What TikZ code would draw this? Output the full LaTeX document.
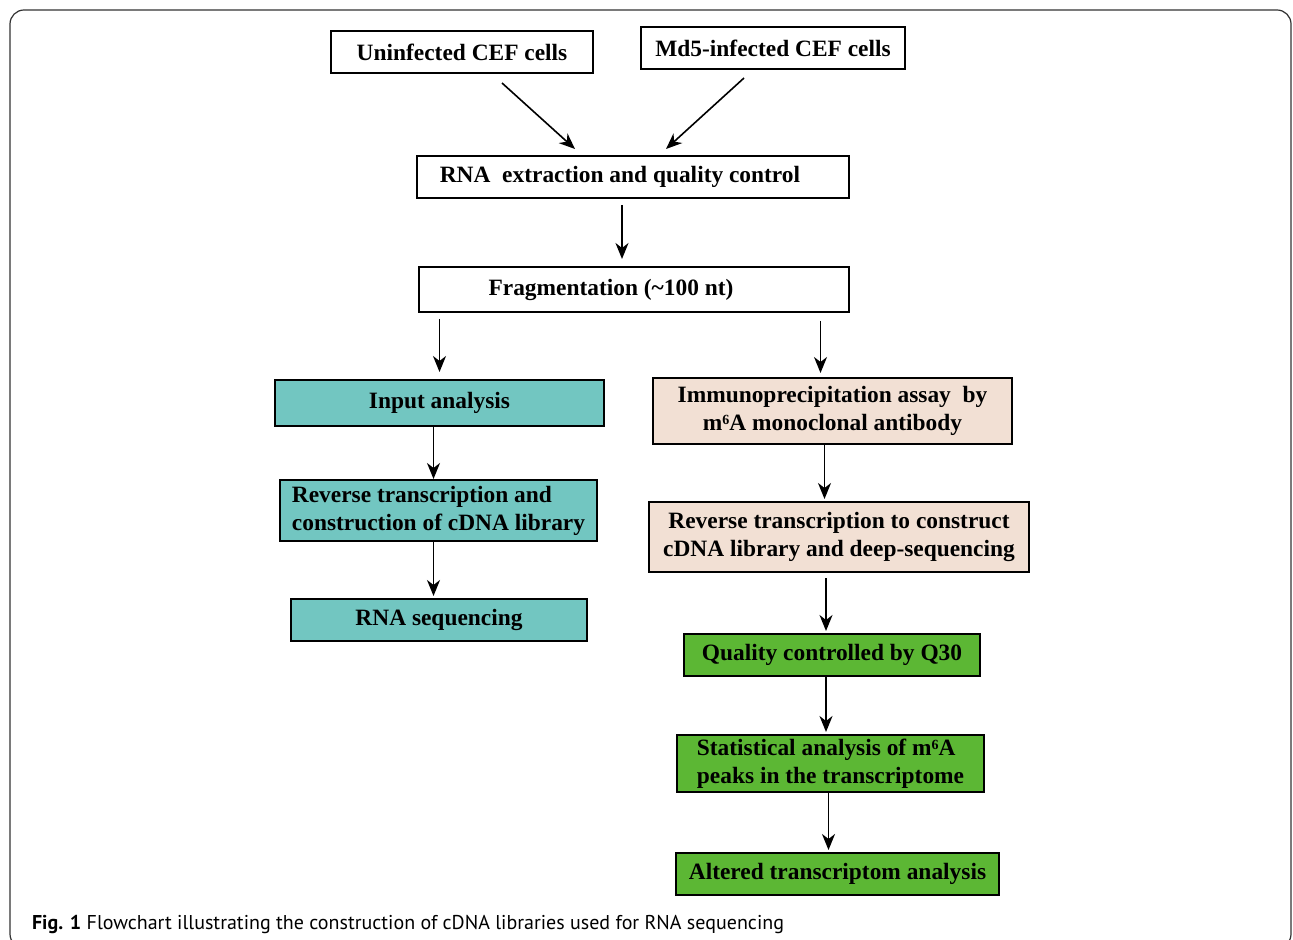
\documentclass[tikz,border=0pt]{standalone}
\usepackage{fontspec}
\setmainfont{Liberation Serif}
\newfontfamily\capfont{PT Sans}
\usepackage{xcolor}
\usepackage{tikz}
\usetikzlibrary{shapes,arrows.meta}

\definecolor{tealbox}{RGB}{114,198,193}
\definecolor{peachbox}{RGB}{242,224,212}
\definecolor{greenbox}{RGB}{92,183,52}
\definecolor{framegray}{RGB}{50,50,50}
\newcommand{\msix}{m\raisebox{0.55ex}{\fontsize{7}{7}\selectfont 6}A}

\begin{document}
\begin{tikzpicture}[x=0.5pt, y=-0.5pt, font=\fontsize{11.7}{14}\selectfont\bfseries]
% Define styles
\tikzstyle{plainbox} = [rectangle, draw=black, line width=1pt, fill=white, inner sep=0pt, minimum height=21pt, text centered]
\tikzstyle{inputbox} = [plainbox, fill=tealbox]
\tikzstyle{ipbox} = [plainbox, fill=peachbox]
\tikzstyle{seqbox} = [plainbox, fill=greenbox]
\tikzstyle{arrow} = [line width=0.8pt, -{Stealth[length=8pt, width=6.5pt, inset=2.5pt]}]

\useasboundingbox (0,0) rectangle (1293,940);
\draw [framegray, line width=0.6pt, rounded corners=7pt] (10,10) rectangle (1291,948);

% Define nodes
\node (unin) [plainbox, minimum width=131pt] at (462,52) {Uninfected CEF cells};
\node (md5) [plainbox, minimum width=132pt] at (773,48) {Md5-infected CEF cells};
\node (rna) [plainbox, minimum width=216pt] at (633,177) {RNA\ \ extraction and quality control\hspace*{13pt}};
\node (frag) [plainbox, minimum width=215pt, minimum height=22.5pt] at (634,289.5) {Fragmentation (\textasciitilde100 nt)\hspace*{23pt}};
\node (input) [inputbox, minimum width=164.5pt, minimum height=23pt] at (439.5,403) {Input analysis};
\node (immuno) [ipbox, minimum width=179.5pt, minimum height=33pt, align=center] at (832.5,411) {Immunoprecipitation assay\ \ by\\\msix\ monoclonal antibody};
\node (revl) [inputbox, minimum width=158.5pt, minimum height=30.5pt, align=left] at (438.5,510.5) {Reverse transcription and\\construction of cDNA library};
\node (revr) [ipbox, minimum width=190pt, minimum height=35pt, align=center] at (839,537) {Reverse transcription to construct\\cDNA library and deep-sequencing};
\node (rnaseq) [inputbox, minimum width=148pt] at (439,620) {RNA sequencing};
\node (q30) [seqbox, minimum width=148pt] at (832,655) {Quality controlled by Q30};
\node (stat) [seqbox, minimum width=153.5pt, minimum height=28.5pt, align=left] at (830.5,763.5) {Statistical analysis of \msix\\peaks in the transcriptome};
\node (alt) [seqbox, minimum width=161.5pt] at (837.5,874) {Altered transcriptom analysis};
\node (cap) [anchor=base west, font=\capfont\fontsize{10}{12}\selectfont] at (25,929) {\textbf{Fig. 1} Flowchart illustrating the construction of cDNA libraries used for RNA sequencing};

% Draw arrows
\draw [arrow] ([xshift=20pt, yshift=-4.5pt]unin.south) -- ([xshift=-29pt, yshift=3pt]rna.north);
\draw [arrow] ([xshift=-14.5pt, yshift=-4pt]md5.south) -- ([xshift=16.5pt, yshift=3pt]rna.north);
\draw [arrow] ([xshift=-5.5pt, yshift=-3pt]rna.south) -- ([xshift=-5.5pt, yshift=3.5pt]rna.south |- frag.north);
\draw [arrow] ([yshift=-3pt]frag.south -| input.north) -- ([yshift=3.5pt]input.north);
\draw [arrow] ([xshift=-6pt, yshift=-4pt]frag.south -| immuno.north) -- ([xshift=-6pt, yshift=2pt]immuno.north);
\draw [arrow] ([xshift=-3pt]input.south) -- ([xshift=-3pt]input.south |- revl.north);
\draw [arrow] ([xshift=-3pt]input.south |- revl.south) -- ([xshift=-3pt, yshift=1pt]input.south |- rnaseq.north);
\draw [arrow] ([xshift=-4pt]immuno.south) -- ([xshift=-4pt, yshift=1pt]immuno.south |- revr.north);
\draw [arrow] ([xshift=-6.5pt, yshift=-2.5pt]revr.south) -- ([xshift=-6.5pt, yshift=1pt]revr.south |- q30.north);
\draw [arrow] ([xshift=-3pt]q30.south) -- ([xshift=-3pt, yshift=1pt]q30.south |- stat.north);
\draw [arrow] ([xshift=-1pt]stat.south) -- ([xshift=-1pt, yshift=1pt]stat.south |- alt.north);
\end{tikzpicture}
\end{document}
